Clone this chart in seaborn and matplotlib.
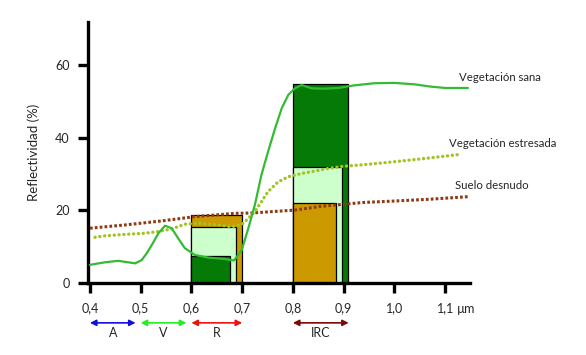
import numpy as np
import pandas as pd
import seaborn as sns
import matplotlib.pyplot as plt
import matplotlib.transforms as mtransforms

# spectral curves (wavelength in um, reflectance in %)
sana_wl = [0.400, 0.430, 0.456, 0.475, 0.489, 0.502, 0.512, 0.522, 0.535, 0.548, 0.561,
           0.574, 0.587, 0.607, 0.633, 0.666, 0.684, 0.699, 0.712, 0.725, 0.738, 0.751,
           0.765, 0.778, 0.791, 0.804, 0.817, 0.837, 0.860, 0.890, 0.920, 0.960, 1.000,
           1.040, 1.070, 1.100, 1.145]
sana_val = [5.0, 5.7, 6.1, 5.7, 5.4, 6.3, 8.2, 10.5, 13.7, 15.8, 15.1,
            12.3, 9.6, 7.7, 7.0, 6.6, 6.2, 9.0, 15.0, 21.5, 29.8, 36.2,
            42.7, 48.2, 51.9, 53.7, 54.6, 53.7, 53.6, 53.8, 54.5, 55.1, 55.2,
            54.8, 54.2, 53.8, 53.8]

estr_wl = [0.410, 0.430, 0.469, 0.508, 0.535, 0.561, 0.587, 0.613, 0.653, 0.679, 0.700,
           0.712, 0.725, 0.738, 0.751, 0.771, 0.791, 0.817, 0.844, 0.870, 0.900, 0.938,
           1.004, 1.070, 1.125]
estr_val = [12.6, 13.0, 13.4, 13.7, 14.2, 14.9, 16.2, 16.5, 16.0, 15.5, 16.2,
            17.8, 19.7, 22.4, 25.2, 27.9, 29.3, 30.2, 30.9, 31.6, 32.2, 32.6,
            33.5, 34.5, 35.4]

suelo_wl = [0.400, 0.469, 0.541, 0.607, 0.686, 0.719, 0.804, 0.853, 0.938, 1.000, 1.070, 1.145]
suelo_val = [15.1, 16.0, 17.1, 18.3, 19.2, 19.3, 20.1, 21.1, 22.2, 22.6, 23.1, 23.8]

# band boxes, back to front: start, end, height, colour
caja_ini = [0.6, 0.6, 0.6, 0.8, 0.8, 0.8]
caja_fin = [0.700, 0.688, 0.676, 0.9087, 0.896, 0.884]
caja_val = [18.7, 15.4, 7.3, 55.0, 32.0, 22.0]
caja_col = ["#cc9900", "#ccffcc", "#067a06", "#067a06", "#ccffcc", "#cc9900"]

bandas = ["A", "V", "R", "IRC"]
banda_ini = [0.40, 0.50, 0.60, 0.80]
banda_fin = [0.49, 0.59, 0.70, 0.91]
banda_col = ["#1010dd", "#22ee22", "#ee1111", "#7a0a0a"]

xticks = [0.4, 0.5, 0.6, 0.7, 0.8, 0.9, 1.0, 1.1]
xticklabels = ["0,4", "0,5", "0,6", "0,7", "0,8", "0,9", "1,0", "1,1"]
yticks = [0, 20, 40, 60]

sns.set_style("white")
plt.rcParams['font.family'] = ['Lato', 'DejaVu Sans']

fig = plt.figure(figsize=(5.86, 3.55), dpi=100)
ax = fig.add_axes([0.150, 0.203, 0.652, 0.735])

for x0, x1, h, c in zip(caja_ini, caja_fin, caja_val, caja_col):
    ax.bar(x0, h, width=x1 - x0, align='edge', color=c, edgecolor='black',
           linewidth=0.9, zorder=1)

df_sana = pd.DataFrame({"wl": sana_wl, "val": sana_val})
df_estr = pd.DataFrame({"wl": estr_wl, "val": estr_val})
df_suelo = pd.DataFrame({"wl": suelo_wl, "val": suelo_val})

sns.lineplot(data=df_suelo, x="wl", y="val", ax=ax, color="#8e3a12", linewidth=2.2,
             linestyle=(0, (0.9, 0.7)), zorder=3)
sns.lineplot(data=df_estr, x="wl", y="val", ax=ax, color="#a2c425", linewidth=2.4,
             linestyle=(0, (0.05, 1.4)), dash_capstyle='round', zorder=3)
sns.lineplot(data=df_sana, x="wl", y="val", ax=ax, color="#33bb33", linewidth=1.6, zorder=4)

ax.set_xlim(0.396, 1.149)
ax.set_ylim(0, 72)
ax.set_xticks(xticks)
ax.set_xticklabels(xticklabels)
ax.set_yticks(yticks)
ax.set_xlabel("")
ax.set_ylabel("Reflectividad (%)", fontsize=9.5, labelpad=11)

for side in ["top", "right"]:
    ax.spines[side].set_visible(False)
for side in ["left", "bottom"]:
    ax.spines[side].set_linewidth(2.4)
    ax.spines[side].set_color("black")
ax.tick_params(axis='both', direction='out', length=7, width=2.4, color='black',
               labelsize=9, bottom=True, left=True)
ax.tick_params(axis='x', pad=7)
ax.tick_params(axis='y', pad=6)

trans = mtransforms.blended_transform_factory(ax.transData, ax.transAxes)
ax.text(1.124, -0.098, "µm", transform=trans, fontsize=9, ha='left', va='center')

for nombre, x0, x1, c in zip(bandas, banda_ini, banda_fin, banda_col):
    ax.annotate("", xy=(x0, -0.153), xytext=(x1, -0.153), xycoords=trans, textcoords=trans,
                arrowprops=dict(arrowstyle='<|-|>', color=c, lw=1.2, mutation_scale=9,
                                shrinkA=0, shrinkB=0), annotation_clip=False)
    ax.text((x0 + x1) / 2, -0.19, nombre, transform=trans, fontsize=9, ha='center', va='center')

ax.text(1.127, 56.8, "Vegetación sana", fontsize=8.2, ha='left', va='center')
ax.text(1.108, 38.5, "Vegetación estresada", fontsize=8.2, ha='left', va='center')
ax.text(1.119, 26.8, "Suelo desnudo", fontsize=8.2, ha='left', va='center')

fig.savefig("out.png", dpi=100)
